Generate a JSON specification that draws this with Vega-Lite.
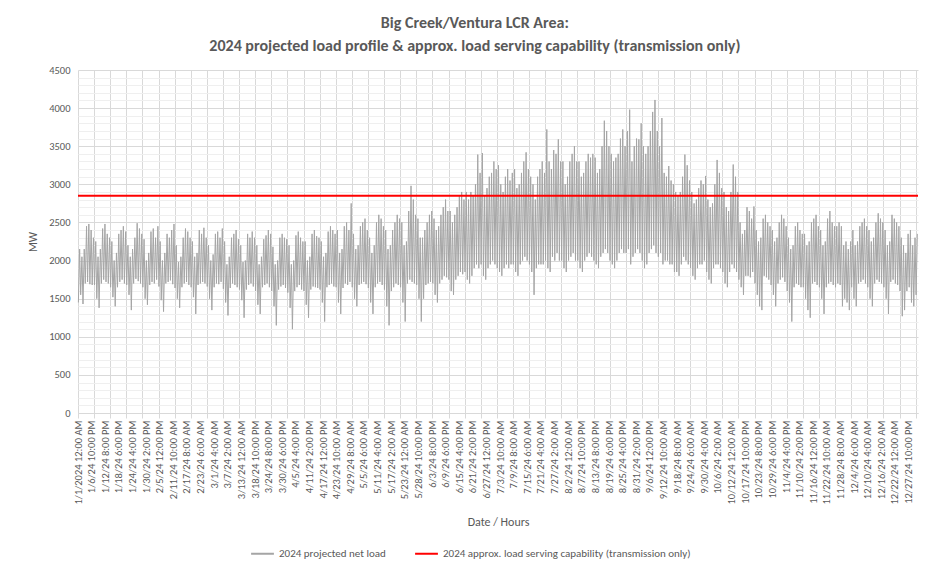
{
"$schema":"https://vega.github.io/schema/vega-lite/v6.json",
"width":840,"height":343,
"autosize":{"type":"none"},
"padding":{"left":78,"top":70,"right":12,"bottom":154},
"background":"white",
"config":{"view":{"stroke":null},"font":"Carlito, Lato, sans-serif"},
"title":{"text":["Big Creek/Ventura LCR Area:","2024 projected load profile & approx. load serving capability (transmission only)"],"fontSize":16,"fontWeight":"bold","color":"#595959","anchor":"middle","frame":"bounds","offset":11,"lineHeight":23,"font":"Carlito, Lato, sans-serif"},
"datasets":{
"cap":[{"h":0,"v":2850},{"h":8760,"v":2850}],
"load":[
{"h":4,"v":1450},{"h":17,"v":2150},{"h":28,"v":1550},{"h":41,"v":2050},{"h":52,"v":1430},{"h":65,"v":2150},{"h":76,"v":1700},{"h":89,"v":2450},{"h":100,"v":1720},{"h":113,"v":2480},{"h":124,"v":1690},{"h":137,"v":2400},{"h":148,"v":1680},{"h":161,"v":2300},
{"h":172,"v":1680},{"h":185,"v":2250},{"h":196,"v":1500},{"h":209,"v":2050},{"h":220,"v":1380},{"h":233,"v":2150},{"h":244,"v":1700},{"h":257,"v":2420},{"h":268,"v":1750},{"h":281,"v":2480},{"h":292,"v":1720},{"h":305,"v":2350},{"h":316,"v":1700},{"h":329,"v":2300},
{"h":340,"v":1650},{"h":353,"v":2250},{"h":364,"v":1520},{"h":377,"v":2000},{"h":388,"v":1400},{"h":401,"v":2100},{"h":412,"v":1650},{"h":425,"v":2350},{"h":436,"v":1720},{"h":449,"v":2400},{"h":460,"v":1750},{"h":473,"v":2450},{"h":484,"v":1700},{"h":497,"v":2380},
{"h":508,"v":1680},{"h":521,"v":2200},{"h":532,"v":1550},{"h":545,"v":2050},{"h":556,"v":1350},{"h":569,"v":2150},{"h":580,"v":1700},{"h":593,"v":2300},{"h":604,"v":1760},{"h":617,"v":2490},{"h":628,"v":1730},{"h":641,"v":2420},{"h":652,"v":1700},{"h":665,"v":2350},
{"h":676,"v":1650},{"h":689,"v":2280},{"h":700,"v":1500},{"h":713,"v":2000},{"h":724,"v":1420},{"h":737,"v":2100},{"h":748,"v":1680},{"h":761,"v":2380},{"h":772,"v":1720},{"h":785,"v":2420},{"h":796,"v":1700},{"h":809,"v":2300},{"h":820,"v":1750},{"h":833,"v":2450},
{"h":844,"v":1660},{"h":857,"v":2250},{"h":868,"v":1480},{"h":881,"v":2000},{"h":892,"v":1330},{"h":905,"v":2100},{"h":916,"v":1700},{"h":929,"v":2350},{"h":940,"v":1720},{"h":953,"v":2300},{"h":964,"v":1740},{"h":977,"v":2400},{"h":988,"v":1690},{"h":1001,"v":2480},
{"h":1012,"v":1640},{"h":1025,"v":2200},{"h":1036,"v":1500},{"h":1049,"v":1980},{"h":1060,"v":1380},{"h":1073,"v":2050},{"h":1084,"v":1650},{"h":1097,"v":2300},{"h":1108,"v":1700},{"h":1121,"v":2420},{"h":1132,"v":1720},{"h":1145,"v":2380},{"h":1156,"v":1680},{"h":1169,"v":2300},
{"h":1180,"v":1650},{"h":1193,"v":2250},{"h":1204,"v":1520},{"h":1217,"v":2050},{"h":1228,"v":1300},{"h":1241,"v":2100},{"h":1252,"v":1680},{"h":1265,"v":2400},{"h":1276,"v":1700},{"h":1289,"v":2350},{"h":1300,"v":1720},{"h":1313,"v":2430},{"h":1324,"v":1700},{"h":1337,"v":2300},
{"h":1348,"v":1660},{"h":1361,"v":2200},{"h":1372,"v":1500},{"h":1385,"v":2000},{"h":1396,"v":1350},{"h":1409,"v":2080},{"h":1420,"v":1650},{"h":1433,"v":2350},{"h":1444,"v":1700},{"h":1457,"v":2380},{"h":1468,"v":1690},{"h":1481,"v":2300},{"h":1492,"v":1720},{"h":1505,"v":2420},
{"h":1516,"v":1630},{"h":1529,"v":2250},{"h":1540,"v":1450},{"h":1553,"v":1950},{"h":1564,"v":1280},{"h":1577,"v":2050},{"h":1588,"v":1640},{"h":1601,"v":2300},{"h":1612,"v":1700},{"h":1625,"v":2350},{"h":1636,"v":1680},{"h":1649,"v":2400},{"h":1660,"v":1650},{"h":1673,"v":2280},
{"h":1684,"v":1620},{"h":1697,"v":2200},{"h":1708,"v":1480},{"h":1721,"v":1980},{"h":1732,"v":1250},{"h":1745,"v":2000},{"h":1756,"v":1620},{"h":1769,"v":2350},{"h":1780,"v":1680},{"h":1793,"v":2300},{"h":1804,"v":1700},{"h":1817,"v":2380},{"h":1828,"v":1660},{"h":1841,"v":2300},
{"h":1852,"v":1600},{"h":1865,"v":2200},{"h":1876,"v":1420},{"h":1889,"v":1950},{"h":1900,"v":1300},{"h":1913,"v":2050},{"h":1924,"v":1650},{"h":1937,"v":2280},{"h":1948,"v":1680},{"h":1961,"v":2330},{"h":1972,"v":1700},{"h":1985,"v":2400},{"h":1996,"v":1650},{"h":2009,"v":2350},
{"h":2020,"v":1600},{"h":2033,"v":2180},{"h":2044,"v":1400},{"h":2057,"v":1950},{"h":2068,"v":1150},{"h":2081,"v":2000},{"h":2092,"v":1620},{"h":2105,"v":2300},{"h":2116,"v":1660},{"h":2129,"v":2350},{"h":2140,"v":1680},{"h":2153,"v":2300},{"h":2164,"v":1640},{"h":2177,"v":2280},
{"h":2188,"v":1580},{"h":2201,"v":2200},{"h":2212,"v":1380},{"h":2225,"v":1950},{"h":2236,"v":1100},{"h":2249,"v":2000},{"h":2260,"v":1600},{"h":2273,"v":2330},{"h":2284,"v":1650},{"h":2297,"v":2380},{"h":2308,"v":1680},{"h":2321,"v":2300},{"h":2332,"v":1620},{"h":2345,"v":2250},
{"h":2356,"v":1600},{"h":2369,"v":2250},{"h":2380,"v":1420},{"h":2393,"v":2000},{"h":2404,"v":1250},{"h":2417,"v":2050},{"h":2428,"v":1620},{"h":2441,"v":2350},{"h":2452,"v":1660},{"h":2465,"v":2400},{"h":2476,"v":1650},{"h":2489,"v":2320},{"h":2500,"v":1640},{"h":2513,"v":2300},
{"h":2524,"v":1620},{"h":2537,"v":2250},{"h":2548,"v":1450},{"h":2561,"v":2050},{"h":2572,"v":1200},{"h":2585,"v":2100},{"h":2596,"v":1650},{"h":2609,"v":2380},{"h":2620,"v":1680},{"h":2633,"v":2450},{"h":2644,"v":1700},{"h":2657,"v":2400},{"h":2668,"v":1660},{"h":2681,"v":2350},
{"h":2692,"v":1650},{"h":2705,"v":2400},{"h":2716,"v":1450},{"h":2729,"v":2100},{"h":2740,"v":1300},{"h":2753,"v":2150},{"h":2764,"v":1640},{"h":2777,"v":2450},{"h":2788,"v":1700},{"h":2801,"v":2500},{"h":2812,"v":1680},{"h":2825,"v":2400},{"h":2836,"v":1720},{"h":2849,"v":2750},
{"h":2860,"v":1650},{"h":2873,"v":2350},{"h":2884,"v":1500},{"h":2897,"v":2150},{"h":2908,"v":1400},{"h":2921,"v":2200},{"h":2932,"v":1680},{"h":2945,"v":2450},{"h":2956,"v":1700},{"h":2969,"v":2500},{"h":2980,"v":1720},{"h":2993,"v":2550},{"h":3004,"v":1690},{"h":3017,"v":2400},
{"h":3028,"v":1640},{"h":3041,"v":2300},{"h":3052,"v":1450},{"h":3065,"v":2100},{"h":3076,"v":1300},{"h":3089,"v":2200},{"h":3100,"v":1650},{"h":3113,"v":2500},{"h":3124,"v":1700},{"h":3137,"v":2600},{"h":3148,"v":1720},{"h":3161,"v":2550},{"h":3172,"v":1680},{"h":3185,"v":2450},
{"h":3196,"v":1620},{"h":3209,"v":2400},{"h":3220,"v":1400},{"h":3233,"v":2150},{"h":3244,"v":1150},{"h":3257,"v":2200},{"h":3268,"v":1600},{"h":3281,"v":2400},{"h":3292,"v":1650},{"h":3305,"v":2500},{"h":3316,"v":1700},{"h":3329,"v":2600},{"h":3340,"v":1680},{"h":3353,"v":2550},
{"h":3364,"v":1650},{"h":3377,"v":2500},{"h":3388,"v":1450},{"h":3401,"v":2200},{"h":3412,"v":1200},{"h":3425,"v":2250},{"h":3436,"v":1700},{"h":3449,"v":2650},{"h":3460,"v":1750},{"h":3473,"v":2980},{"h":3484,"v":1720},{"h":3497,"v":2800},{"h":3508,"v":1700},{"h":3521,"v":2600},
{"h":3532,"v":1680},{"h":3545,"v":2550},{"h":3556,"v":1500},{"h":3569,"v":2300},{"h":3580,"v":1200},{"h":3593,"v":2300},{"h":3604,"v":1500},{"h":3617,"v":2400},{"h":3628,"v":1680},{"h":3641,"v":2500},{"h":3652,"v":1700},{"h":3665,"v":2600},{"h":3676,"v":1720},{"h":3689,"v":2650},
{"h":3700,"v":1700},{"h":3713,"v":2550},{"h":3724,"v":1550},{"h":3737,"v":2400},{"h":3748,"v":1450},{"h":3761,"v":2450},{"h":3772,"v":1700},{"h":3785,"v":2600},{"h":3796,"v":1750},{"h":3809,"v":2700},{"h":3820,"v":1800},{"h":3833,"v":2800},{"h":3844,"v":1780},{"h":3857,"v":2650},
{"h":3868,"v":1750},{"h":3881,"v":2650},{"h":3892,"v":1600},{"h":3905,"v":2500},{"h":3916,"v":1550},{"h":3929,"v":2600},{"h":3940,"v":1750},{"h":3953,"v":2700},{"h":3964,"v":1800},{"h":3977,"v":2850},{"h":3988,"v":1850},{"h":4001,"v":2900},{"h":4012,"v":1820},{"h":4025,"v":2800},
{"h":4036,"v":1850},{"h":4049,"v":2900},{"h":4060,"v":1750},{"h":4073,"v":2800},{"h":4084,"v":1700},{"h":4097,"v":2900},{"h":4108,"v":1800},{"h":4121,"v":2850},{"h":4132,"v":1900},{"h":4145,"v":3000},{"h":4156,"v":1950},{"h":4169,"v":3390},{"h":4180,"v":1900},{"h":4193,"v":3150},
{"h":4204,"v":1950},{"h":4217,"v":3410},{"h":4228,"v":1800},{"h":4241,"v":2850},{"h":4252,"v":1750},{"h":4265,"v":2950},{"h":4276,"v":1900},{"h":4289,"v":3100},{"h":4300,"v":1950},{"h":4313,"v":3150},{"h":4324,"v":2000},{"h":4337,"v":3300},{"h":4348,"v":1950},{"h":4361,"v":3200},
{"h":4372,"v":1900},{"h":4385,"v":3250},{"h":4396,"v":1850},{"h":4409,"v":3000},{"h":4420,"v":1800},{"h":4433,"v":2900},{"h":4444,"v":1900},{"h":4457,"v":3100},{"h":4468,"v":1950},{"h":4481,"v":3200},{"h":4492,"v":1900},{"h":4505,"v":3050},{"h":4516,"v":1950},{"h":4529,"v":3150},
{"h":4540,"v":1950},{"h":4553,"v":3200},{"h":4564,"v":1850},{"h":4577,"v":2950},{"h":4588,"v":1800},{"h":4601,"v":3000},{"h":4612,"v":1950},{"h":4625,"v":3150},{"h":4636,"v":2000},{"h":4649,"v":3300},{"h":4660,"v":2050},{"h":4673,"v":3420},{"h":4684,"v":2000},{"h":4697,"v":3200},
{"h":4708,"v":1950},{"h":4721,"v":3100},{"h":4732,"v":1850},{"h":4745,"v":3000},{"h":4756,"v":1550},{"h":4769,"v":2800},{"h":4780,"v":1900},{"h":4793,"v":3100},{"h":4804,"v":1950},{"h":4817,"v":3200},{"h":4828,"v":1950},{"h":4841,"v":3300},{"h":4852,"v":1950},{"h":4865,"v":3150},
{"h":4876,"v":2000},{"h":4889,"v":3720},{"h":4900,"v":1900},{"h":4913,"v":3300},{"h":4924,"v":1850},{"h":4937,"v":3200},{"h":4948,"v":2050},{"h":4961,"v":3450},{"h":4972,"v":2000},{"h":4985,"v":3400},{"h":4996,"v":2100},{"h":5009,"v":3590},{"h":5020,"v":2000},{"h":5033,"v":3300},
{"h":5044,"v":2000},{"h":5057,"v":3300},{"h":5068,"v":1900},{"h":5081,"v":3000},{"h":5092,"v":1850},{"h":5105,"v":3100},{"h":5116,"v":2000},{"h":5129,"v":3300},{"h":5140,"v":2050},{"h":5153,"v":3400},{"h":5164,"v":2100},{"h":5177,"v":3500},{"h":5188,"v":2000},{"h":5201,"v":3300},
{"h":5212,"v":2000},{"h":5225,"v":3300},{"h":5236,"v":1900},{"h":5249,"v":3100},{"h":5260,"v":1850},{"h":5273,"v":3150},{"h":5284,"v":2000},{"h":5297,"v":3300},{"h":5308,"v":2050},{"h":5321,"v":3400},{"h":5332,"v":2100},{"h":5345,"v":3350},{"h":5356,"v":2050},{"h":5369,"v":3400},
{"h":5380,"v":2000},{"h":5393,"v":3350},{"h":5404,"v":1950},{"h":5417,"v":3150},{"h":5428,"v":1900},{"h":5441,"v":3200},{"h":5452,"v":2050},{"h":5465,"v":3500},{"h":5476,"v":2100},{"h":5489,"v":3835},{"h":5500,"v":2150},{"h":5513,"v":3700},{"h":5524,"v":2100},{"h":5537,"v":3500},
{"h":5548,"v":2000},{"h":5561,"v":3400},{"h":5572,"v":1950},{"h":5585,"v":3300},{"h":5596,"v":1900},{"h":5609,"v":3350},{"h":5620,"v":2000},{"h":5633,"v":3400},{"h":5644,"v":2100},{"h":5657,"v":3600},{"h":5668,"v":2150},{"h":5681,"v":3720},{"h":5692,"v":2100},{"h":5705,"v":3500},
{"h":5716,"v":2100},{"h":5729,"v":3700},{"h":5740,"v":2150},{"h":5753,"v":3980},{"h":5764,"v":1950},{"h":5777,"v":3300},{"h":5788,"v":2050},{"h":5801,"v":3500},{"h":5812,"v":2100},{"h":5825,"v":3600},{"h":5836,"v":2150},{"h":5849,"v":3590},{"h":5860,"v":2100},{"h":5873,"v":3800},
{"h":5884,"v":2000},{"h":5897,"v":3500},{"h":5908,"v":1900},{"h":5921,"v":3400},{"h":5932,"v":1950},{"h":5945,"v":3500},{"h":5956,"v":2100},{"h":5969,"v":3700},{"h":5980,"v":2150},{"h":5993,"v":3950},{"h":6004,"v":2200},{"h":6017,"v":4107},{"h":6028,"v":2100},{"h":6041,"v":3700},
{"h":6052,"v":2050},{"h":6065,"v":3500},{"h":6076,"v":2100},{"h":6089,"v":3870},{"h":6100,"v":1950},{"h":6113,"v":3150},{"h":6124,"v":2000},{"h":6137,"v":3100},{"h":6148,"v":2000},{"h":6161,"v":3240},{"h":6172,"v":1950},{"h":6185,"v":3050},{"h":6196,"v":1950},{"h":6209,"v":3000},
{"h":6220,"v":1850},{"h":6233,"v":2900},{"h":6244,"v":1850},{"h":6257,"v":2850},{"h":6268,"v":1800},{"h":6281,"v":2900},{"h":6292,"v":1950},{"h":6305,"v":3100},{"h":6316,"v":2050},{"h":6329,"v":3390},{"h":6340,"v":2000},{"h":6353,"v":3250},{"h":6364,"v":1950},{"h":6377,"v":3050},
{"h":6388,"v":1900},{"h":6401,"v":2900},{"h":6412,"v":1800},{"h":6425,"v":2750},{"h":6436,"v":1750},{"h":6449,"v":2800},{"h":6460,"v":1900},{"h":6473,"v":2950},{"h":6484,"v":1950},{"h":6497,"v":3050},{"h":6508,"v":1950},{"h":6521,"v":3000},{"h":6532,"v":2000},{"h":6545,"v":3110},
{"h":6556,"v":1850},{"h":6569,"v":2800},{"h":6580,"v":1750},{"h":6593,"v":2700},{"h":6604,"v":1700},{"h":6617,"v":2750},{"h":6628,"v":1900},{"h":6641,"v":3000},{"h":6652,"v":1950},{"h":6665,"v":3320},{"h":6676,"v":1950},{"h":6689,"v":3150},{"h":6700,"v":1900},{"h":6713,"v":2950},
{"h":6724,"v":1850},{"h":6737,"v":2900},{"h":6748,"v":1700},{"h":6761,"v":2700},{"h":6772,"v":1650},{"h":6785,"v":2650},{"h":6796,"v":1850},{"h":6809,"v":2900},{"h":6820,"v":1950},{"h":6833,"v":3260},{"h":6844,"v":1900},{"h":6857,"v":3100},{"h":6868,"v":1850},{"h":6881,"v":2900},
{"h":6892,"v":1750},{"h":6905,"v":2500},{"h":6916,"v":1650},{"h":6929,"v":2350},{"h":6940,"v":1550},{"h":6953,"v":2400},{"h":6964,"v":1800},{"h":6977,"v":2700},{"h":6988,"v":1800},{"h":7001,"v":2650},{"h":7012,"v":1780},{"h":7025,"v":2550},{"h":7036,"v":1850},{"h":7049,"v":2710},
{"h":7060,"v":1700},{"h":7073,"v":2400},{"h":7084,"v":1550},{"h":7097,"v":2250},{"h":7108,"v":1400},{"h":7121,"v":2300},{"h":7132,"v":1350},{"h":7145,"v":2550},{"h":7156,"v":1800},{"h":7169,"v":2600},{"h":7180,"v":1780},{"h":7193,"v":2500},{"h":7204,"v":1750},{"h":7217,"v":2450},
{"h":7228,"v":1680},{"h":7241,"v":2400},{"h":7252,"v":1550},{"h":7265,"v":2250},{"h":7276,"v":1400},{"h":7289,"v":2300},{"h":7300,"v":1700},{"h":7313,"v":2500},{"h":7324,"v":1750},{"h":7337,"v":2600},{"h":7348,"v":1780},{"h":7361,"v":2550},{"h":7372,"v":1720},{"h":7385,"v":2450},
{"h":7396,"v":1600},{"h":7409,"v":2300},{"h":7420,"v":1450},{"h":7433,"v":2150},{"h":7444,"v":1200},{"h":7457,"v":2200},{"h":7468,"v":1650},{"h":7481,"v":2450},{"h":7492,"v":1700},{"h":7505,"v":2500},{"h":7516,"v":1680},{"h":7529,"v":2400},{"h":7540,"v":1650},{"h":7553,"v":2350},
{"h":7564,"v":1650},{"h":7577,"v":2350},{"h":7588,"v":1500},{"h":7601,"v":2200},{"h":7612,"v":1350},{"h":7625,"v":2250},{"h":7636,"v":1250},{"h":7649,"v":2500},{"h":7660,"v":1700},{"h":7673,"v":2550},{"h":7684,"v":1720},{"h":7697,"v":2600},{"h":7708,"v":1680},{"h":7721,"v":2450},
{"h":7732,"v":1650},{"h":7745,"v":2400},{"h":7756,"v":1500},{"h":7769,"v":2200},{"h":7780,"v":1300},{"h":7793,"v":2250},{"h":7804,"v":1650},{"h":7817,"v":2550},{"h":7828,"v":1700},{"h":7841,"v":2650},{"h":7852,"v":1720},{"h":7865,"v":2500},{"h":7876,"v":1680},{"h":7889,"v":2450},
{"h":7900,"v":1650},{"h":7913,"v":2450},{"h":7924,"v":1700},{"h":7937,"v":2500},{"h":7948,"v":1680},{"h":7961,"v":2450},{"h":7972,"v":1400},{"h":7985,"v":2200},{"h":7996,"v":1500},{"h":8009,"v":2250},{"h":8020,"v":1450},{"h":8033,"v":2150},{"h":8044,"v":1350},{"h":8057,"v":2250},
{"h":8068,"v":1650},{"h":8081,"v":2400},{"h":8092,"v":1500},{"h":8105,"v":2200},{"h":8116,"v":1400},{"h":8129,"v":2250},{"h":8140,"v":1700},{"h":8153,"v":2450},{"h":8164,"v":1720},{"h":8177,"v":2500},{"h":8188,"v":1750},{"h":8201,"v":2550},{"h":8212,"v":1700},{"h":8225,"v":2450},
{"h":8236,"v":1650},{"h":8249,"v":2400},{"h":8260,"v":1500},{"h":8273,"v":2250},{"h":8284,"v":1400},{"h":8297,"v":2300},{"h":8308,"v":1700},{"h":8321,"v":2500},{"h":8332,"v":1750},{"h":8345,"v":2620},{"h":8356,"v":1720},{"h":8369,"v":2550},{"h":8380,"v":1700},{"h":8393,"v":2500},
{"h":8404,"v":1650},{"h":8417,"v":2400},{"h":8428,"v":1500},{"h":8441,"v":2200},{"h":8452,"v":1300},{"h":8465,"v":2250},{"h":8476,"v":1720},{"h":8489,"v":2600},{"h":8500,"v":1750},{"h":8513,"v":2550},{"h":8524,"v":1700},{"h":8537,"v":2500},{"h":8548,"v":1680},{"h":8561,"v":2450},
{"h":8572,"v":1600},{"h":8585,"v":2300},{"h":8596,"v":1270},{"h":8609,"v":2200},{"h":8620,"v":1350},{"h":8633,"v":2100},{"h":8644,"v":1600},{"h":8657,"v":2350},{"h":8668,"v":1650},{"h":8681,"v":2400},{"h":8692,"v":1450},{"h":8705,"v":2200},{"h":8716,"v":1400},{"h":8729,"v":2300},
{"h":8740,"v":1550},{"h":8753,"v":2350}
]},
"encoding":{
"x":{"field":"h","type":"quantitative","scale":{"domain":[0,8760],"nice":false,"zero":false},
"axis":{"values":[0,142,168,284,336,426,504,568,672,710,840,852,994,1008,1136,1176,1278,1344,1420,1512,1562,1680,1704,1846,1848,1988,2016,2130,2184,2272,2352,2414,2520,2556,2688,2698,2840,2856,2982,3024,3124,3192,3266,3360,3408,3528,3550,3692,3696,3834,3864,3976,4032,4118,4200,4260,4368,4402,4536,4544,4686,4704,4828,4872,4970,5040,5112,5208,5254,5376,5396,5538,5544,5680,5712,5822,5880,5964,6048,6106,6216,6248,6384,6390,6532,6552,6674,6720,6816,6888,6958,7056,7100,7224,7242,7384,7392,7526,7560,7668,7728,7810,7896,7952,8064,8094,8232,8236,8378,8400,8520,8568,8662,8736],
"labelExpr":"datum.value % 142 === 0 ? ['1/1/2024 12:00 AM','1/6/24 10:00 PM','1/12/24 8:00 PM','1/18/24 6:00 PM','1/24/24 4:00 PM','1/30/24 2:00 PM','2/5/24 12:00 PM','2/11/24 10:00 AM','2/17/24 8:00 AM','2/23/24 6:00 AM','3/1/24 4:00 AM','3/7/24 2:00 AM','3/13/24 12:00 AM','3/18/24 10:00 PM','3/24/24 8:00 PM','3/30/24 6:00 PM','4/5/24 4:00 PM','4/11/24 2:00 PM','4/17/24 12:00 PM','4/23/24 10:00 AM','4/29/24 8:00 AM','5/5/24 6:00 AM','5/11/24 4:00 AM','5/17/24 2:00 AM','5/23/24 12:00 AM','5/28/24 10:00 PM','6/3/24 8:00 PM','6/9/24 6:00 PM','6/15/24 4:00 PM','6/21/24 2:00 PM','6/27/24 12:00 PM','7/3/24 10:00 AM','7/9/24 8:00 AM','7/15/24 6:00 AM','7/21/24 4:00 AM','7/27/24 2:00 AM','8/2/24 12:00 AM','8/7/24 10:00 PM','8/13/24 8:00 PM','8/19/24 6:00 PM','8/25/24 4:00 PM','8/31/24 2:00 PM','9/6/24 12:00 PM','9/12/24 10:00 AM','9/18/24 8:00 AM','9/24/24 6:00 AM','9/30/24 4:00 AM','10/6/24 2:00 AM','10/12/24 12:00 AM','10/17/24 10:00 PM','10/23/24 8:00 PM','10/29/24 6:00 PM','11/4/24 4:00 PM','11/10/24 2:00 PM','11/16/24 12:00 PM','11/22/24 10:00 AM','11/28/24 8:00 AM','12/4/24 6:00 AM','12/10/24 4:00 AM','12/16/24 2:00 AM','12/22/24 12:00 AM','12/27/24 10:00 PM'][datum.value / 142] : ''",
"labelAngle":-90,"labelFontSize":10.5,"labelColor":"#595959","labelOverlap":false,"labelFlush":false,"labelBound":false,"labelPadding":2,
"grid":true,"gridColor":"#d9d9d9","gridOpacity":{"condition":{"test":"datum.value % 168 === 0","value":1},"value":0},
"ticks":true,"tickSize":5,"tickColor":"#d9d9d9","tickOpacity":{"condition":{"test":"datum.value % 168 === 0","value":1},"value":0},
"domain":true,"domainColor":"#d9d9d9",
"title":"Date / Hours","titleFontSize":12,"titleFontWeight":"normal","titleColor":"#595959","titlePadding":13}},
"y":{"field":"v","type":"quantitative","scale":{"domain":[0,4500],"nice":false},
"axis":{"values":[0,100,200,300,400,500,600,700,800,900,1000,1100,1200,1300,1400,1500,1600,1700,1800,1900,2000,2100,2200,2300,2400,2500,2600,2700,2800,2900,3000,3100,3200,3300,3400,3500,3600,3700,3800,3900,4000,4100,4200,4300,4400,4500],
"format":"d","labelExpr":"datum.value % 500 === 0 ? datum.label : ''",
"gridColor":{"condition":{"test":"datum.value % 500 === 0","value":"#d9d9d9"},"value":"#efefef"},
"ticks":false,"domain":false,"labelPadding":8,"labelFontSize":10.5,"labelColor":"#595959",
"title":"MW","titleFontSize":11.5,"titleFontWeight":"normal","titleColor":"#595959","titlePadding":10}}
},
"layer":[
{"data":{"name":"load"},"mark":{"type":"line","strokeWidth":1,"interpolate":"linear"},
"encoding":{"color":{"datum":"2024 projected net load","type":"nominal",
"scale":{"domain":["2024 projected net load","2024 approx. load serving  capability (transmission only)"],"range":["#a5a5a5","#ff0000"]},
"legend":{"orient":"none","legendX":172,"legendY":471,"direction":"horizontal","title":null,"symbolType":"stroke","symbolSize":520,"symbolStrokeWidth":2,"labelFontSize":11,"labelColor":"#595959","columnPadding":25,"labelLimit":400}}}},
{"data":{"name":"cap"},"mark":{"type":"line","strokeWidth":2},
"encoding":{"color":{"datum":"2024 approx. load serving  capability (transmission only)","type":"nominal"}}}
]
}
